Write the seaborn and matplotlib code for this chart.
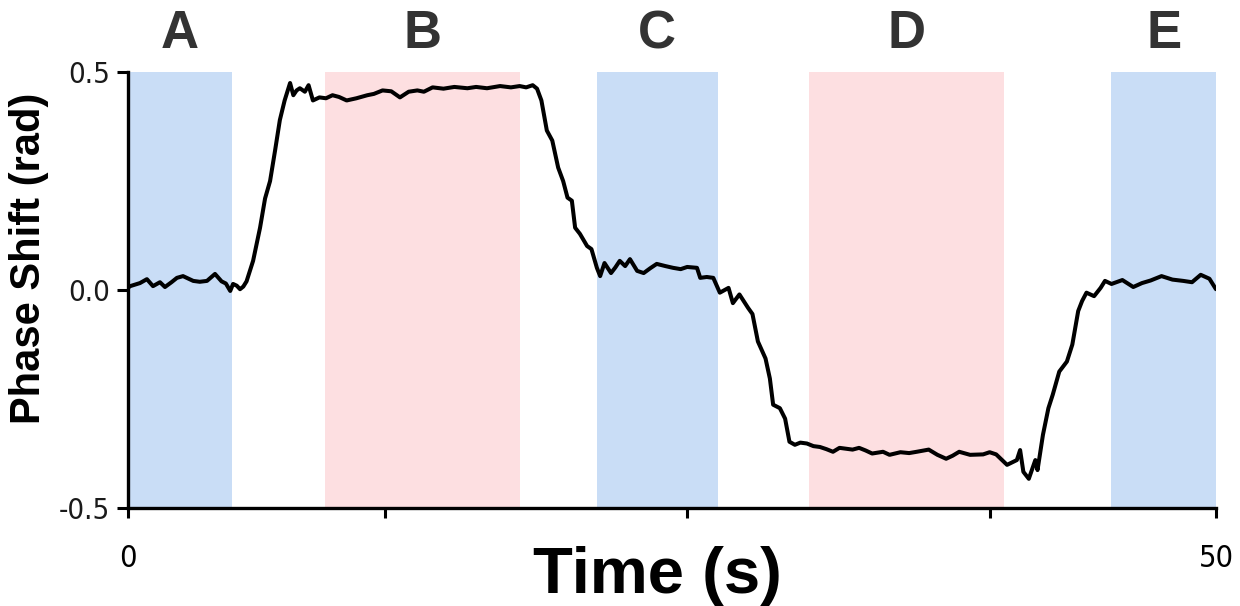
import matplotlib
matplotlib.use("Agg")
import matplotlib.pyplot as plt
import seaborn as sns
import pandas as pd

time_s = [0.0, 0.1, 0.55, 0.87, 1.15, 1.47, 1.7, 2.0, 2.25, 2.53, 3.0, 3.3, 3.63, 4.0, 4.3, 4.5, 4.7, 4.83,
          5.0, 5.15, 5.3, 5.45, 5.75, 6.07, 6.3, 6.53, 6.76, 6.98, 7.2, 7.45, 7.6, 7.75, 7.9, 8.13, 8.3, 8.5,
          8.8, 9.1, 9.4, 9.7, 10.05, 10.5, 11.0, 11.3, 11.7, 12.1, 12.5, 12.9, 13.3, 13.6, 14.0, 14.5, 15.0,
          15.6, 16.0, 16.5, 17.1, 17.6, 18.0, 18.3, 18.6, 18.8, 19.0, 19.25, 19.5, 19.77, 20.0, 20.2, 20.4,
          20.55, 20.77, 21.1, 21.3, 21.55, 21.7, 21.9, 22.2, 22.4, 22.6, 22.85, 23.07, 23.4, 23.7, 24.0, 24.3,
          24.7, 25.05, 25.4, 25.7, 26.15, 26.3, 26.6, 26.9, 27.2, 27.6, 27.8, 28.1, 28.5, 28.7, 28.95, 29.3,
          29.5, 29.65, 29.96, 30.2, 30.4, 30.65, 30.9, 31.2, 31.5, 31.8, 32.1, 32.4, 32.7, 33.0, 33.3, 33.6,
          33.9, 34.2, 34.7, 35.0, 35.5, 35.9, 36.25, 36.8, 37.2, 37.6, 37.9, 38.2, 38.7, 39.3, 39.6, 39.9,
          40.4, 40.85, 41.0, 41.15, 41.4, 41.7, 41.8, 42.05, 42.3, 42.5, 42.8, 43.15, 43.4, 43.67, 43.85,
          44.05, 44.4, 44.7, 44.9, 45.2, 45.7, 46.2, 46.6, 47.0, 47.5, 48.0, 48.5, 48.9, 49.3, 49.7, 50.0]

phase_rad = [0.005, 0.009, 0.016, 0.025, 0.009, 0.018, 0.007, 0.018, 0.028, 0.032, 0.021, 0.019, 0.021, 0.037,
             0.020, 0.015, -0.002, 0.014, 0.010, 0.002, 0.008, 0.020, 0.067, 0.143, 0.210, 0.250, 0.320, 0.390,
             0.435, 0.475, 0.447, 0.458, 0.463, 0.455, 0.470, 0.435, 0.442, 0.440, 0.447, 0.443, 0.435, 0.440,
             0.447, 0.450, 0.458, 0.456, 0.442, 0.455, 0.458, 0.455, 0.465, 0.462, 0.466, 0.463, 0.466, 0.463,
             0.468, 0.465, 0.468, 0.465, 0.470, 0.462, 0.435, 0.366, 0.343, 0.281, 0.250, 0.212, 0.205, 0.143,
             0.129, 0.101, 0.094, 0.051, 0.032, 0.062, 0.039, 0.052, 0.067, 0.055, 0.071, 0.044, 0.039, 0.050,
             0.060, 0.055, 0.051, 0.048, 0.053, 0.051, 0.028, 0.030, 0.028, -0.006, 0.005, -0.030, -0.010,
             -0.041, -0.055, -0.118, -0.157, -0.203, -0.263, -0.271, -0.295, -0.348, -0.355, -0.350, -0.352,
             -0.358, -0.360, -0.365, -0.371, -0.362, -0.364, -0.366, -0.362, -0.368, -0.375, -0.371, -0.378,
             -0.372, -0.374, -0.371, -0.366, -0.378, -0.387, -0.380, -0.371, -0.378, -0.377, -0.372, -0.377,
             -0.401, -0.390, -0.367, -0.417, -0.433, -0.390, -0.413, -0.332, -0.271, -0.240, -0.187, -0.164,
             -0.125, -0.048, -0.025, -0.006, -0.014, 0.005, 0.021, 0.014, 0.023, 0.007, 0.016, 0.022, 0.032,
             0.024, 0.021, 0.018, 0.035, 0.026, 0.002]

band_labels = ["A", "B", "C", "D", "E"]
band_starts = [0.0, 9.05, 21.55, 31.3, 45.2]
band_ends = [4.8, 18.0, 27.1, 40.25, 50.0]
band_kinds = ["blue", "pink", "blue", "pink", "blue"]
band_colors = {"blue": "#c9ddf6", "pink": "#fddfe1"}

x_ticks = [0, 11.8, 25.7, 39.6, 50]
x_tick_labels = ["0", "", "", "", "50"]
y_ticks = [-0.5, 0.0, 0.5]
y_tick_labels = ["-0.5", "0.0", "0.5"]

sns.set_theme(style="ticks")
plt.rcParams["font.family"] = ["Liberation Sans", "DejaVu Sans"]

fig = plt.figure(figsize=(12.4, 6.06), dpi=100)
ax = fig.add_axes([0.1032, 0.1617, 0.8774, 0.7193])

for s, e, k, lab in zip(band_starts, band_ends, band_kinds, band_labels):
    ax.axvspan(s, e, ymin=0, ymax=1, color=band_colors[k], lw=0, zorder=0)
    ax.text((s + e) / 2, 1.055, lab, transform=ax.get_xaxis_transform(), ha="center", va="baseline",
            fontsize=38, fontweight="bold", color="#333333")

df = pd.DataFrame({"t": time_s, "phase": phase_rad})
sns.lineplot(data=df, x="t", y="phase", ax=ax, color="black", lw=2.9, zorder=3)

ax.set_xlim(0, 50)
ax.set_ylim(-0.5, 0.5)
ax.set_xticks(x_ticks)
ax.set_xticklabels(x_tick_labels)
ax.set_yticks(y_ticks)
ax.set_yticklabels(y_tick_labels)
ax.tick_params(axis="x", length=7, width=2.2, pad=19, colors="black")
ax.tick_params(axis="y", length=8, width=2.2, pad=5, colors="black", labelcolor="#1a1a1a")
for lbl in ax.get_xticklabels():
    lbl.set_fontsize(22)
    lbl.set_fontstretch("condensed")
    lbl.set_family(["DejaVu Sans"])
for lbl in ax.get_yticklabels():
    lbl.set_fontsize(21)
    lbl.set_fontstretch("condensed")
    lbl.set_family(["DejaVu Sans"])
for side in ["top", "right"]:
    ax.spines[side].set_visible(False)
for side in ["left", "bottom"]:
    ax.spines[side].set_linewidth(2.4)
    ax.spines[side].set_color("black")

ax.set_xlabel("")
ax.set_ylabel("")
fig.text(0.530, 0.0215, "Time (s)", ha="center", va="baseline", fontsize=47, fontweight="bold", color="black")
fig.text(0.023, 0.574, "Phase Shift (rad)", ha="center", va="center", rotation=90, fontsize=30,
         fontweight="bold", color="black")

fig.savefig("out.png", dpi=100)
